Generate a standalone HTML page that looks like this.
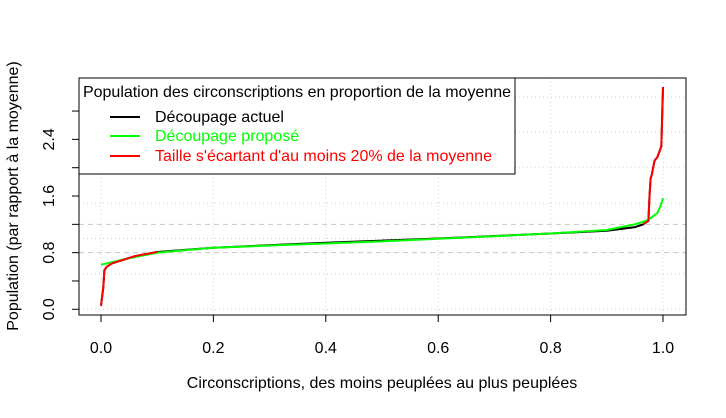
<!DOCTYPE html>
<html><head><meta charset="utf-8"><style>
body{margin:0;background:#fff}
svg{font-family:"Liberation Sans",sans-serif}
</style></head><body>
<svg width="726" height="413">
<g id="grid"></g>
<g id="axes"></g>
<g id="series"></g>
<rect x="79" y="78" width="607" height="237" fill="none" stroke="#000"/>
<g>
<rect x="79" y="78" width="436" height="96" fill="#fff" stroke="#000"/>
<text x="83" y="97" font-size="16" textLength="428">Population des circonscriptions en proportion de la moyenne</text>
<line x1="110" x2="140" y1="117" y2="117" stroke="#000" stroke-width="2"/>
<text x="155" y="122" font-size="16">Découpage actuel</text>
<line x1="110" x2="140" y1="136" y2="136" stroke="#00ff00" stroke-width="2"/>
<text x="155" y="141" font-size="16" fill="#00ff00">Découpage proposé</text>
<line x1="110" x2="140" y1="156" y2="156" stroke="#ff0000" stroke-width="2"/>
<text x="155" y="161" font-size="16" fill="#ff0000">Taille s'écartant d'au moins 20% de la moyenne</text>
</g>
<text x="382" y="388" font-size="16" text-anchor="middle">Circonscriptions, des moins peuplées au plus peuplées</text>
<text transform="translate(18,196) rotate(-90)" font-size="16" text-anchor="middle">Population (par rapport à la moyenne)</text>
</svg>
<script>
const xTicks=[0,0.2,0.4,0.6,0.8,1.0];
const xTickLabels=["0.0","0.2","0.4","0.6","0.8","1.0"];
const yTicks=[0,0.4,0.8,1.2,1.6,2.0,2.4,2.8];
const yTickLabels=["0.0","","0.8","","1.6","","2.4",""];
const yGrid=[0,0.5,1.0,1.5,2.0,2.5,3.0];
const refLines=[0.8,1.2];
const actuelX=[0,0.004,0.006,0.01,0.02,0.04,0.06,0.08,0.1,0.2,0.4,0.6,0.8,0.9,0.95,0.965,0.974,0.976,0.978,0.98,0.985,0.99,0.997,1.0];
const actuelY=[0.05,0.3,0.55,0.6,0.65,0.7,0.75,0.78,0.81,0.87,0.94,1.0,1.07,1.11,1.16,1.2,1.25,1.6,1.85,1.9,2.1,2.15,2.3,3.14];
const proposeX=[0,0.05,0.1,0.2,0.5,0.8,0.9,0.95,0.97,0.98,0.99,0.995,1.0];
const proposeY=[0.63,0.72,0.8,0.87,0.96,1.07,1.12,1.2,1.25,1.3,1.36,1.45,1.57];
const NS="http://www.w3.org/2000/svg";
const sx=v=>101+v*562, sy=v=>309.3-v*70.8;
function mk(t,a,p){const e=document.createElementNS(NS,t);for(const k in a)e.setAttribute(k,a[k]);p.appendChild(e);return e;}
const G=document.getElementById('grid'),A=document.getElementById('axes'),S=document.getElementById('series');
xTicks.forEach((v,i)=>{
 const g=mk('line',{x1:sx(v),x2:sx(v),y1:78,y2:315,stroke:'#d3d3d3','stroke-dasharray':'1,3'},G);
 
 const t=mk('line',{x1:sx(v),x2:sx(v),y1:315,y2:322,stroke:'#000'},A);
 
 const l=mk('text',{x:sx(v),y:353,'font-size':16,'text-anchor':'middle'},A);l.textContent=xTickLabels[i];
 
});
yGrid.forEach(v=>{
 const g=mk('line',{x1:79,x2:686,y1:sy(v),y2:sy(v),stroke:'#d3d3d3','stroke-dasharray':'1,3'},G);
 
});
refLines.forEach(v=>{
 const g=mk('line',{x1:79,x2:686,y1:sy(v),y2:sy(v),stroke:'#c8c8c8','stroke-dasharray':'5,4'},G);
 
});
yTicks.forEach((v,i)=>{
 const t=mk('line',{x1:72,x2:79,y1:sy(v),y2:sy(v),stroke:'#000'},A);
 
 if(yTickLabels[i]){const l=mk('text',{transform:`translate(54,${sy(v)}) rotate(-90)`,'font-size':16,'text-anchor':'middle'},A);l.textContent=yTickLabels[i];
 }
});
function pts(X,Y){return X.map((x,i)=>sx(x)+','+sy(Y[i])).join(' ');}
const b=mk('polyline',{points:pts(actuelX,actuelY),fill:'none',stroke:'#000','stroke-width':2},S);

const g=mk('polyline',{points:pts(proposeX,proposeY),fill:'none',stroke:'#00ff00','stroke-width':2},S);

let segs=[],cur=[];
actuelX.forEach((x,i)=>{const y=actuelY[i];
 if(y<0.8||y>1.2){cur.push([x,y]);}else{if(cur.length){cur.push([x,y]);segs.push(cur);}cur=[];}
 if(y>=0.8&&y<=1.2&&i+1<actuelX.length){const ny=actuelY[i+1];if(ny<0.8||ny>1.2)cur=[[x,y]];}
});
if(cur.length)segs.push(cur);
segs.forEach(s=>{if(s.length<2)return;
 const r=mk('polyline',{points:s.map(p=>sx(p[0])+','+sy(p[1])).join(' '),fill:'none',stroke:'#ff0000','stroke-width':2},S);
 
});
</script>
</body></html>
